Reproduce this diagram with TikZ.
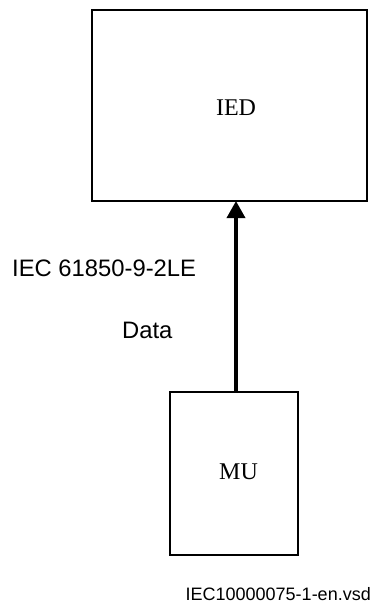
\documentclass[tikz,border=0pt]{standalone}
\usepackage{fontspec}
\setmainfont{Liberation Serif}
\setsansfont{Liberation Sans}
\usepackage{tikz}
\usetikzlibrary{arrows.meta,positioning,calc}
\definecolor{inkline}{HTML}{000000}

\begin{document}
\begin{tikzpicture}[x=1pt, y=-1pt,
    unitbox/.style={draw=inkline, line width=2pt, inner sep=0pt, outer sep=0pt},
    boxtext/.style={font=\rmfamily\fontsize{24}{28}\selectfont, anchor=base, inner sep=0pt},
    sidetext/.style={font=\sffamily\fontsize{23.8}{28}\selectfont, anchor=base west, inner sep=0pt},
    dataflow/.style={draw=inkline, line width=3.5pt, -{Triangle[length=17pt, width=18pt]}}]
  \useasboundingbox (0,0) rectangle (372,605);

  \node[unitbox, minimum width=275pt, minimum height=191.5pt] (ied) at (229.5,105.25) {};
  \node[boxtext] (ied_text) at (236,115.5) {IED};
  \node[unitbox, minimum width=128.5pt, minimum height=163pt] (mu) at (233.75,473.5) {};
  \node[boxtext] (mu_text) at (238.5,479) {MU};

  \node[sidetext] (proto) at (12,276) {IEC 61850-9-2LE};
  \node[sidetext] (data_lbl) at (122,338) {Data};
  \node[font=\sffamily\fontsize{18}{22}\selectfont, anchor=base east, inner sep=0pt] (doc_id) at (371,600) {IEC10000075-1-en.vsd};

  \draw[dataflow] (mu.north -| ied_text) -- (ied.south -| ied_text);
\end{tikzpicture}
\end{document}
